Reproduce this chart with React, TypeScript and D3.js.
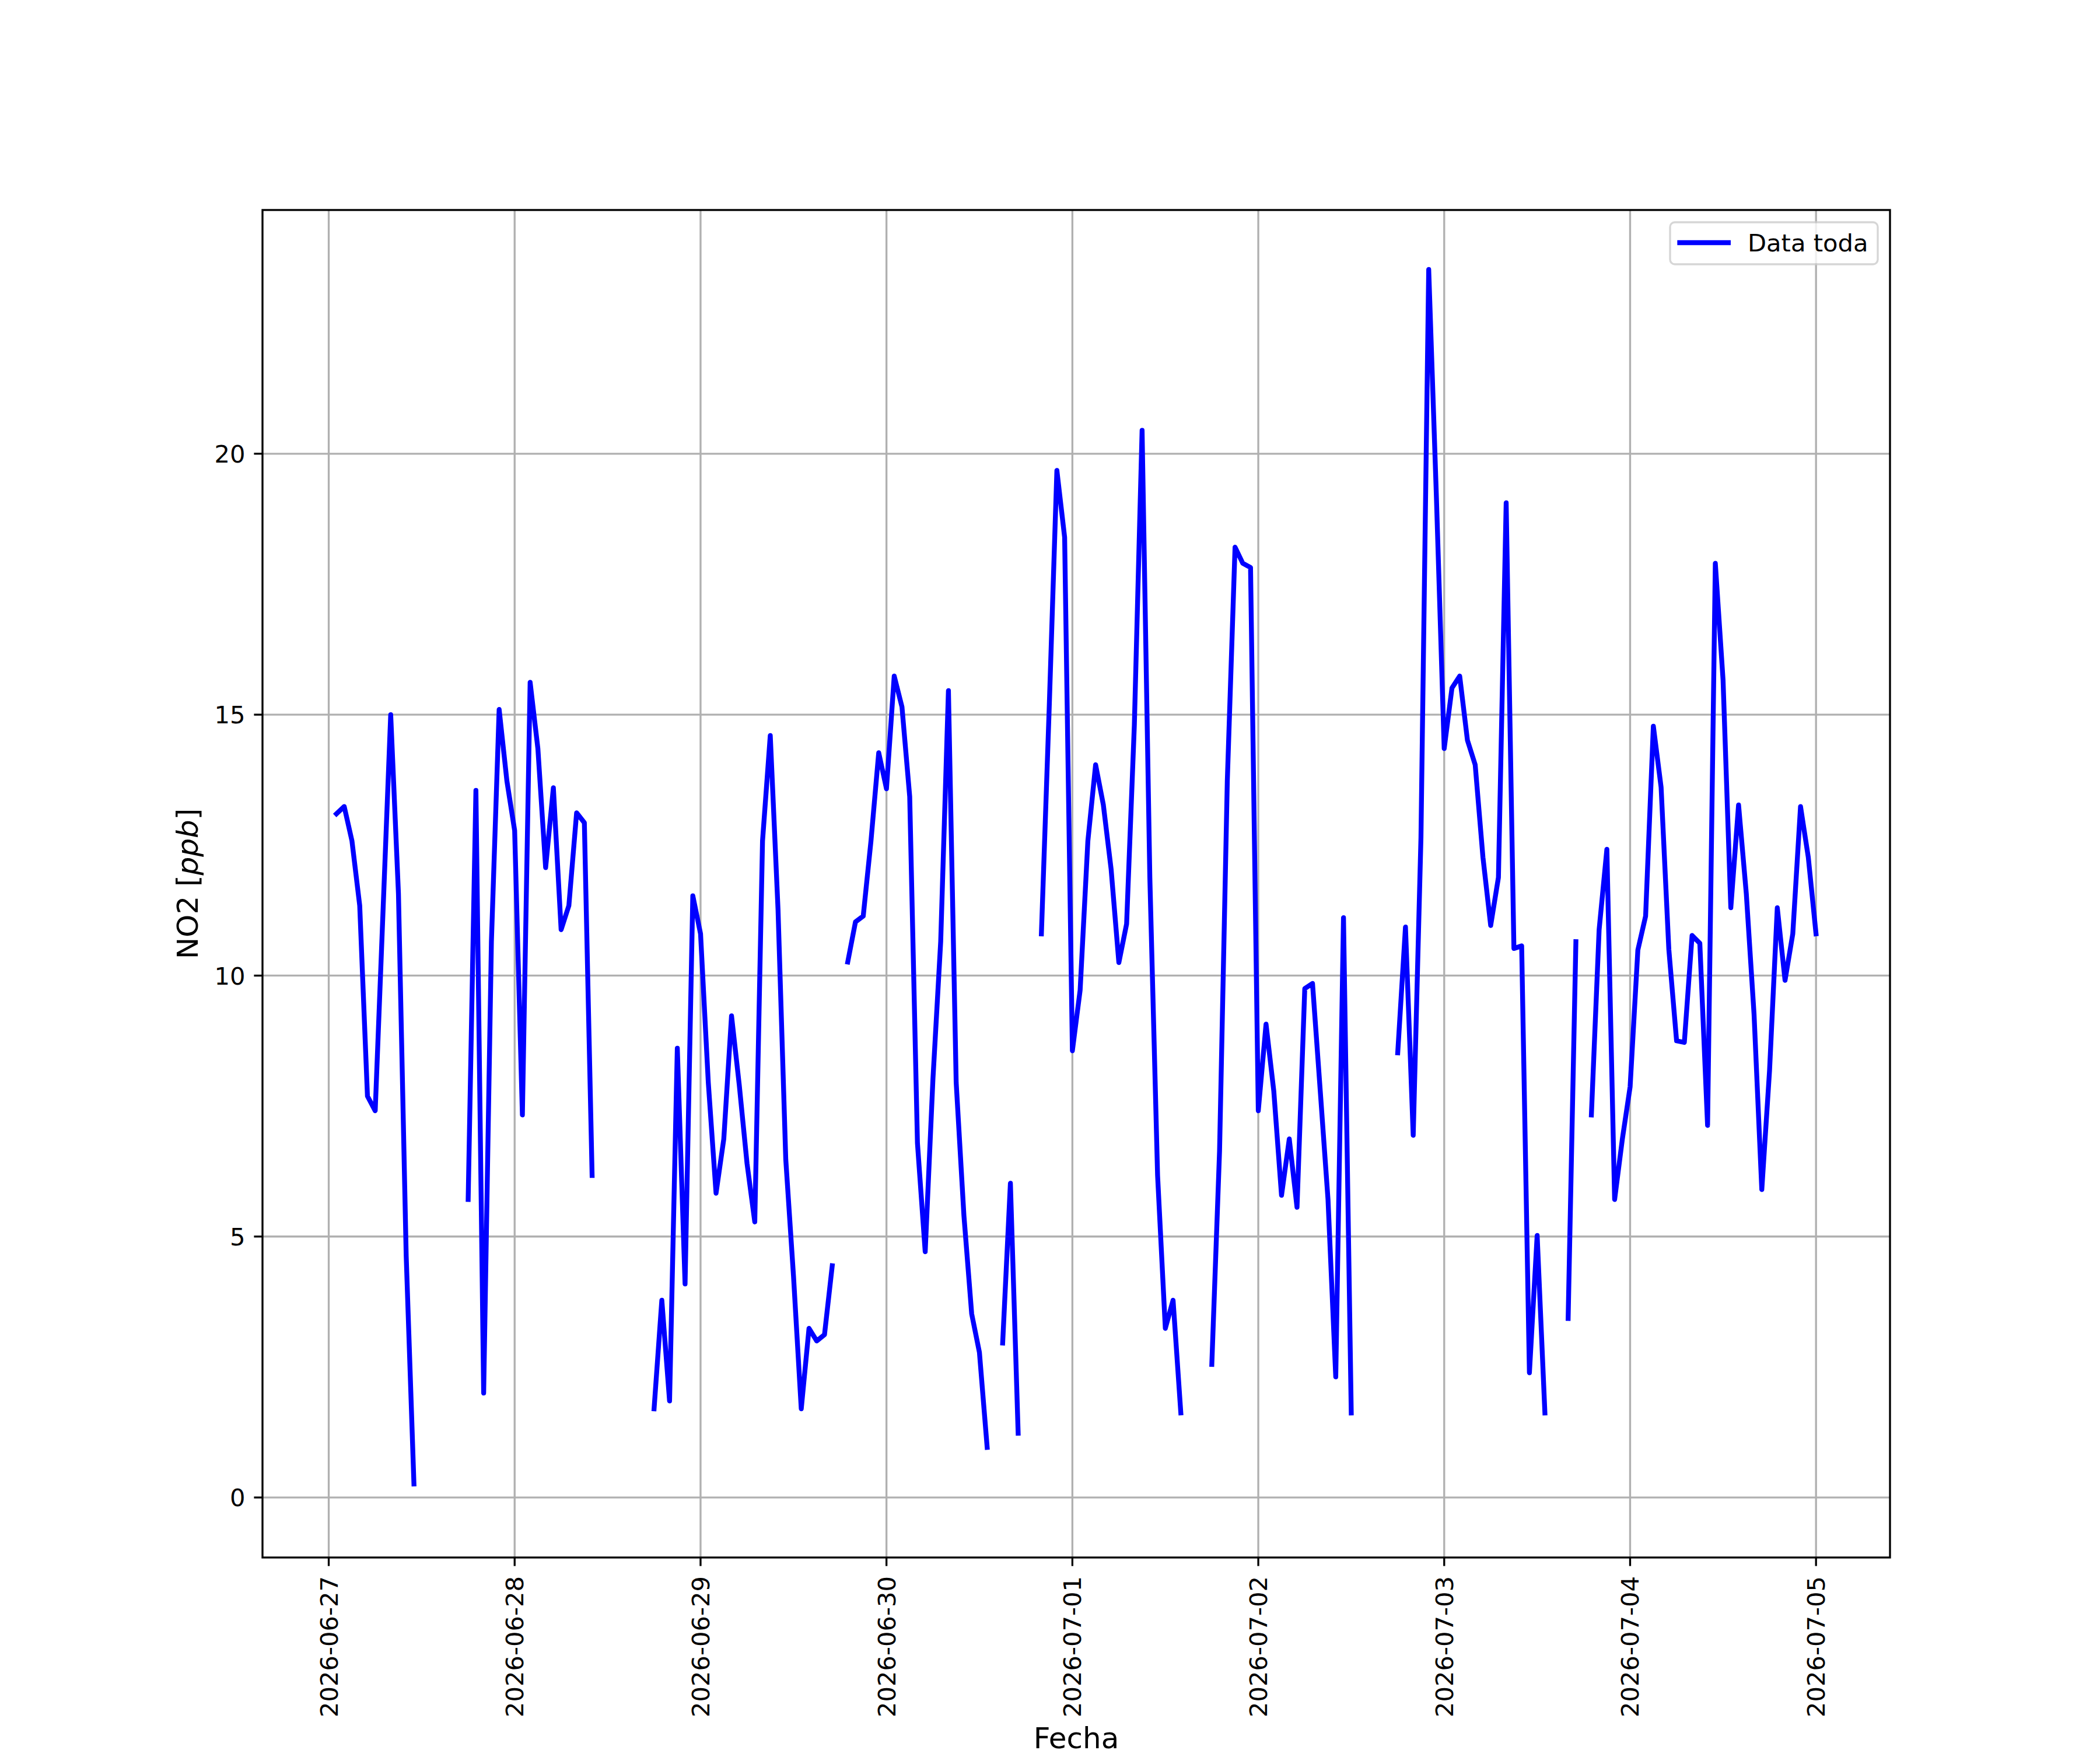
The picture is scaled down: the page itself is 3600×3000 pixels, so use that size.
import React from 'react';
import * as d3 from 'd3';

// hourly NO2 values, each array runs from 01:00 of the day to 00:00 of the next day
const START = '2026-06-27T01:00:00Z';
const day0627 = [13.1, 13.24, 12.58, 11.34, 7.69, 7.41, 11.2, 15.0, 11.57, 4.63, 0.26, null,
    null, null, null, null, null, 5.71, 13.55, 2.0, 10.65, 15.1, 13.73, 12.78];
const day0628 = [7.33, 15.62, 14.35, 12.07, 13.6, 10.88, 11.34, 13.12, 12.93, 6.17, null, null,
    null, null, null, null, null, 1.7, 3.78, 1.85, 8.61, 4.09, 11.53, 10.8];
const day0629 = [7.95, 5.83, 6.87, 9.23, 7.9, 6.4, 5.28, 12.58, 14.6, 11.27, 6.48, 4.24,
    1.7, 3.24, 3.0, 3.12, 4.44, null, 10.26, 11.03, 11.14, 12.58, 14.27, 13.58];
const day0630 = [15.74, 15.15, 13.43, 6.79, 4.71, 8.02, 10.65, 15.46, 7.95, 5.4, 3.52, 2.78,
    0.96, null, 2.96, 6.02, 1.23, null, null, 10.8, 15.09, 19.68, 18.4, 8.56];
const day0701 = [9.72, 12.58, 14.04, 13.27, 12.04, 10.25, 10.99, 14.8, 20.45, 11.88, 6.17, 3.24,
    3.78, 1.62, null, null, null, 2.55, 6.64, 13.73, 18.21, 17.9, 17.82, 7.41];
const day0702 = [9.07, 7.79, 5.79, 6.87, 5.56, 9.75, 9.85, 7.79, 5.71, 2.31, 11.11, 1.62,
    null, null, null, null, null, 8.52, 10.93, 6.94, 12.65, 23.53, 19.14, 14.35];
const day0703 = [15.51, 15.74, 14.51, 14.04, 12.27, 10.96, 11.88, 19.06, 10.52, 10.57, 2.39, 5.02,
    1.62, null, null, 3.43, 10.65, null, 7.33, 10.88, 12.42, 5.71, 6.87, 7.87];
const day0704 = [10.49, 11.14, 14.78, 13.61, 10.5, 8.75, 8.72, 10.77, 10.62, 7.13, 17.9, 15.66,
    11.3, 13.27, 11.57, 9.26, 5.9, 8.18, 11.3, 9.91, 10.8, 13.24, 12.27, 10.8];

const Y_LIMITS = [-1.15, 24.67];
const Y_TICKS = [0, 5, 10, 15, 20];
const SERIES_LABEL = 'Data toda';
const X_LABEL = 'Fecha';

interface Row { t: Date; v: number | null; }

const values = [...day0627, ...day0628, ...day0629, ...day0630,
    ...day0701, ...day0702, ...day0703, ...day0704];
const t0 = new Date(START);
const rows: Row[] = values.map((v, i) => ({ t: d3.utcHour.offset(t0, i), v }));

const W = 3600, H = 3000;
const left = 450, right = 3240, top = 360, bottom = 2670;
const font = '"DejaVu Sans", sans-serif';
const fs = 41.67; // 10pt at 300 dpi
const lw = 3.33;  // 0.8pt

const App: React.FC = () => {
    // x domain with matplotlib's 5% margin
    const [tMin, tMax] = d3.extent(rows, d => d.t) as [Date, Date];
    const span = +tMax - +tMin;
    const x = d3.scaleUtc()
        .domain([new Date(+tMin - span * 0.05), new Date(+tMax + span * 0.05)])
        .range([left, right]);
    const y = d3.scaleLinear().domain(Y_LIMITS).range([bottom, top]);

    const xTicks = x.ticks(d3.utcDay.every(1) as d3.TimeInterval);
    const fmt = d3.utcFormat('%Y-%m-%d');

    const line = d3.line<Row>()
        .defined(d => d.v !== null)
        .x(d => x(d.t))
        .y(d => y(d.v as number));

    return (
        <svg width={W} height={H} style={{ position: 'absolute', left: 0, top: 0, background: '#fff' }}
            fontFamily={font}>
            <rect x={0} y={0} width={W} height={H} fill="#fff" />
            {/* grid */}
            <g stroke="#b0b0b0" strokeWidth={lw}>
                {xTicks.map(t => (
                    <line key={'gx' + +t} x1={x(t)} x2={x(t)} y1={top} y2={bottom} />
                ))}
                {Y_TICKS.map(v => (
                    <line key={'gy' + v} x1={left} x2={right} y1={y(v)} y2={y(v)} />
                ))}
            </g>
            {/* data */}
            <path d={line(rows) || ''} fill="none" stroke="#0000ff" strokeWidth={8.33}
                strokeLinejoin="round" strokeLinecap="square" />
            {/* spines */}
            <rect x={left} y={top} width={right - left} height={bottom - top}
                fill="none" stroke="#000" strokeWidth={lw} />
            {/* x ticks */}
            {xTicks.map(t => (
                <g key={'xt' + +t}>
                    <line x1={x(t)} x2={x(t)} y1={bottom} y2={bottom + 14.6} stroke="#000" strokeWidth={lw} />
                    <text transform={`translate(${x(t) + 15},${bottom + 32}) rotate(-90)`}
                        textAnchor="end" fontSize={fs}>{fmt(t)}</text>
                </g>
            ))}
            {/* y ticks */}
            {Y_TICKS.map(v => (
                <g key={'yt' + v}>
                    <line x1={left - 14.6} x2={left} y1={y(v)} y2={y(v)} stroke="#000" strokeWidth={lw} />
                    <text x={left - 29.5} y={y(v) + 15.2} textAnchor="end" fontSize={fs}>{v}</text>
                </g>
            ))}
            {/* axis labels */}
            <text x={(left + right) / 2} y={2996.5} textAnchor="middle" fontSize={50}>{X_LABEL}</text>
            <text transform={`translate(338.5,${(top + bottom) / 2}) rotate(-90)`} textAnchor="middle" fontSize={50}>
                NO2 [<tspan fontStyle="italic">ppb</tspan>]
            </text>
            {/* legend */}
            <g>
                <rect x={2863} y={381} width={356} height={72} rx={8} fill="#fff" stroke="#cccccc"
                    strokeWidth={lw} opacity={0.8} />
                <line x1={2879.5} x2={2962.8} y1={416} y2={416} stroke="#0000ff" strokeWidth={8.33}
                    strokeLinecap="square" />
                <text x={2996} y={431} fontSize={fs}>{SERIES_LABEL}</text>
            </g>
        </svg>
    );
};

export default App;
